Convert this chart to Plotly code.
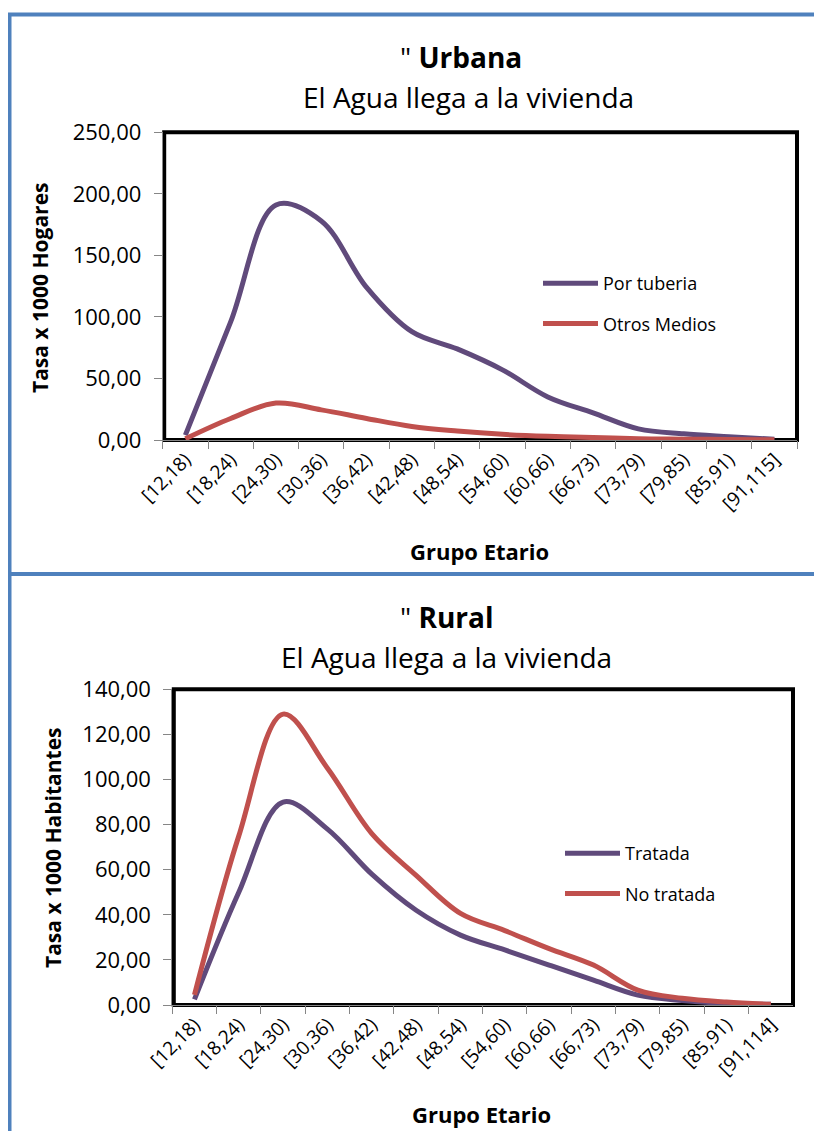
import plotly.graph_objects as go

# ---------------- data ----------------
cats_urbana = ["[12,18)", "[18,24)", "[24,30)", "[30,36)", "[36,42)", "[42,48)", "[48,54)",
               "[54,60)", "[60,66)", "[66,73)", "[73,79)", "[79,85)", "[85,91)", "[91,115]"]
por_tuberia = [4, 96, 191, 178, 124, 88, 74, 57, 35, 22, 9, 5, 2.7, 0.6]
otros_medios = [1, 17.5, 30, 24.5, 17.5, 11, 7.3, 4.6, 3, 2, 1, 0.7, 0.4, 0.2]

cats_rural = ["[12,18)", "[18,24)", "[24,30)", "[30,36)", "[36,42)", "[42,48)", "[48,54)",
              "[54,60)", "[60,66)", "[66,73)", "[73,79)", "[79,85)", "[85,91)", "[91,114]"]
tratada = [2.5, 50, 90, 78, 58, 42, 31, 24.4, 17.7, 11, 4.4, 2, 0.7, 0.3]
no_tratada = [4.5, 75, 129, 105, 76, 57.5, 40.6, 33, 25, 17.7, 6.6, 3, 1.3, 0.3]

# ---------------- style ----------------
W, H = 822, 1131
OFF = 8  # page body margin: figure starts 8px from the window corner
PURPLE = "#604A7B"
RED = "#C0504D"
BLUE = "#4F81BD"
FONT = "Open Sans, Noto Sans, DejaVu Sans, sans-serif"

def px(x):
    return (x - OFF) / W

def py(y):
    return 1 - (y - OFF) / H

# plot-area boxes in window pixels (left, top, right, bottom)
top_box = (162.7, 132.3, 797, 440)
bot_box = (172.3, 689.3, 793, 1005)

fig = go.Figure()

fig.add_trace(go.Scatter(x=cats_urbana, y=por_tuberia, name="Por tuberia", mode="lines",
                         line=dict(color=PURPLE, width=5, shape="spline", smoothing=1),
                         xaxis="x", yaxis="y", legend="legend", legendgroup="a"))
fig.add_trace(go.Scatter(x=cats_urbana, y=otros_medios, name="Otros Medios", mode="lines",
                         line=dict(color=RED, width=5, shape="spline", smoothing=1),
                         xaxis="x", yaxis="y", legend="legend", legendgroup="b"))
fig.add_trace(go.Scatter(x=cats_rural, y=tratada, name="Tratada", mode="lines",
                         line=dict(color=PURPLE, width=5, shape="spline", smoothing=1),
                         xaxis="x2", yaxis="y2", legend="legend2", legendgroup="c"))
fig.add_trace(go.Scatter(x=cats_rural, y=no_tratada, name="No tratada", mode="lines",
                         line=dict(color=RED, width=5, shape="spline", smoothing=1),
                         xaxis="x2", yaxis="y2", legend="legend2", legendgroup="d"))

axis_common = dict(showgrid=False, zeroline=False, showline=True, linecolor="#868686", linewidth=1,
                   ticks="outside", ticklen=8, tickcolor="#868686", tickwidth=1, automargin=False,
                   tickfont=dict(family=FONT, size=22, color="#000000"))

xcommon = dict(axis_common, type="category", range=[-0.5, 13.5], tickangle=-45,
               tickson="boundaries", tickfont=dict(family=FONT, size=19, color="#000000"))

fig.update_layout(
    width=W, height=H, autosize=False,
    margin=dict(l=0, r=0, t=0, b=0, pad=0, autoexpand=False),
    paper_bgcolor="white", plot_bgcolor="white",
    separators=", ",
    showlegend=True,
    xaxis=dict(xcommon, domain=[px(top_box[0]), px(top_box[2])], anchor="y"),
    yaxis=dict(axis_common, domain=[py(top_box[3]), py(top_box[1])], anchor="x",
               range=[0, 250], dtick=50, tickformat=".2f", ticklabelstandoff=8),
    xaxis2=dict(xcommon, domain=[px(bot_box[0]), px(bot_box[2])], anchor="y2"),
    yaxis2=dict(axis_common, domain=[py(bot_box[3]), py(bot_box[1])], anchor="x2",
                range=[0, 140], dtick=20, tickformat=".2f", ticklabelstandoff=8),
    legend=dict(x=px(538), y=py(265), xanchor="left", yanchor="top",
                font=dict(family=FONT, size=18, color="#000000"),
                bgcolor="rgba(0,0,0,0)", tracegroupgap=14, itemwidth=55),
    legend2=dict(x=px(560), y=py(835), xanchor="left", yanchor="top",
                 font=dict(family=FONT, size=18, color="#000000"),
                 bgcolor="rgba(0,0,0,0)", tracegroupgap=14, itemwidth=55),
)

shapes = []
# outer blue panel frames
shapes.append(dict(type="rect", xref="paper", yref="paper",
                   x0=px(9.5), x1=px(850), y0=py(574), y1=py(14.5),
                   line=dict(color=BLUE, width=4), layer="above"))
shapes.append(dict(type="rect", xref="paper", yref="paper",
                   x0=px(9.5), x1=px(850), y0=py(1160), y1=py(574),
                   line=dict(color=BLUE, width=4), layer="above"))
# plot-area black borders
for (l, t, r, b) in (top_box, bot_box):
    shapes.append(dict(type="rect", xref="paper", yref="paper",
                       x0=px(l + 1.5), x1=px(r), y0=py(b), y1=py(t),
                       line=dict(color="black", width=4), layer="below"))
fig.update_layout(shapes=shapes)

def ann(text, x, y, size, angle=0):
    return dict(text=text, x=px(x), y=py(y), xref="paper", yref="paper",
                xanchor="center", yanchor="middle", textangle=angle,
                showarrow=False, font=dict(family=FONT, size=size, color="#000000"))

annotations = [
    ann('" <b>Urbana</b>', 461, 57, 28),
    ann("El Agua llega a la vivienda", 468, 97, 28),
    ann('" <b>Rural</b>', 447, 617, 28),
    ann("El Agua llega a la vivienda", 446, 657, 28),
    ann("<b>Tasa x 1000 Hogares</b>", 40, 288, 21, -90),
    ann("<b>Tasa x 1000 Habitantes</b>", 53, 848, 21, -90),
    ann("<b>Grupo Etario</b>", 480, 551, 22),
    ann("<b>Grupo Etario</b>", 482, 1114, 22),
]
fig.update_layout(annotations=annotations)

fig.write_html("out.html")
